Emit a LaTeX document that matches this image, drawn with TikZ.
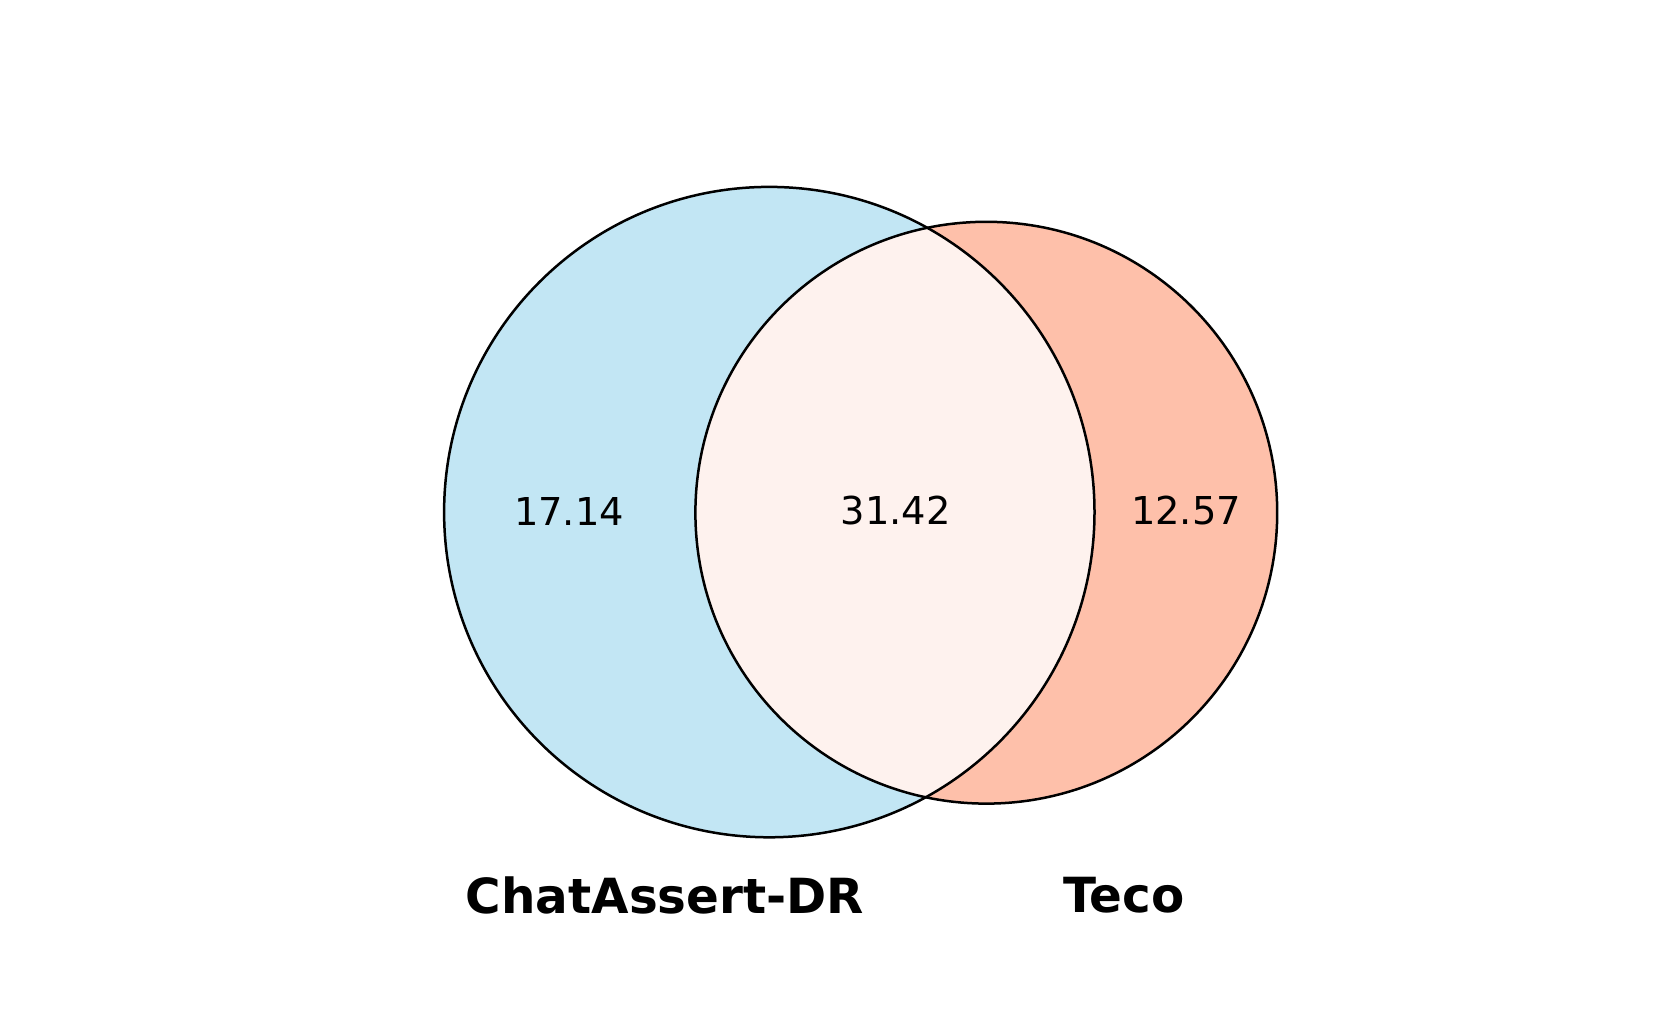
\documentclass[tikz,border=0pt]{standalone}
\usepackage{fontspec}
\setmainfont{DejaVu Sans}
\definecolor{leftc}{RGB}{194,230,244}
\definecolor{rightc}{RGB}{254,192,170}
\definecolor{midc}{RGB}{254,242,238}
\begin{document}
\begin{tikzpicture}[x=0.5pt,y=-0.5pt,
  ring/.style={draw=black,line width=1.25pt},
  num/.style={font=\fontsize{19.2}{22}\selectfont,inner sep=0pt},
  setlabel/.style={font=\fontsize{24.2}{28}\selectfont\bfseries,inner sep=0pt}]
\useasboundingbox[fill=white] (0,0) rectangle (1680,1016);
\coordinate (cl) at (769.3,512.1);
\coordinate (cr) at (986.3,512.7);
\fill[leftc] (cl) circle[radius=162.6pt];
\fill[rightc] (cr) circle[radius=145.45pt];
\begin{scope}
\clip (cl) circle[radius=162.6pt];
\fill[midc] (cr) circle[radius=145.45pt];
\end{scope}
\draw[ring] (cl) circle[radius=162.6pt];
\draw[ring] (cr) circle[radius=145.45pt];
\node[num] (a) at (569,511) {17.14};
\node[num] (b) at (895.7,511) {31.42};
\node[num] (c) at (1186,511) {12.57};
\node[setlabel] (la) at (665,895) {ChatAssert-DR};
\node[setlabel] (lb) at (1124,895) {Teco};
\end{tikzpicture}
\end{document}
